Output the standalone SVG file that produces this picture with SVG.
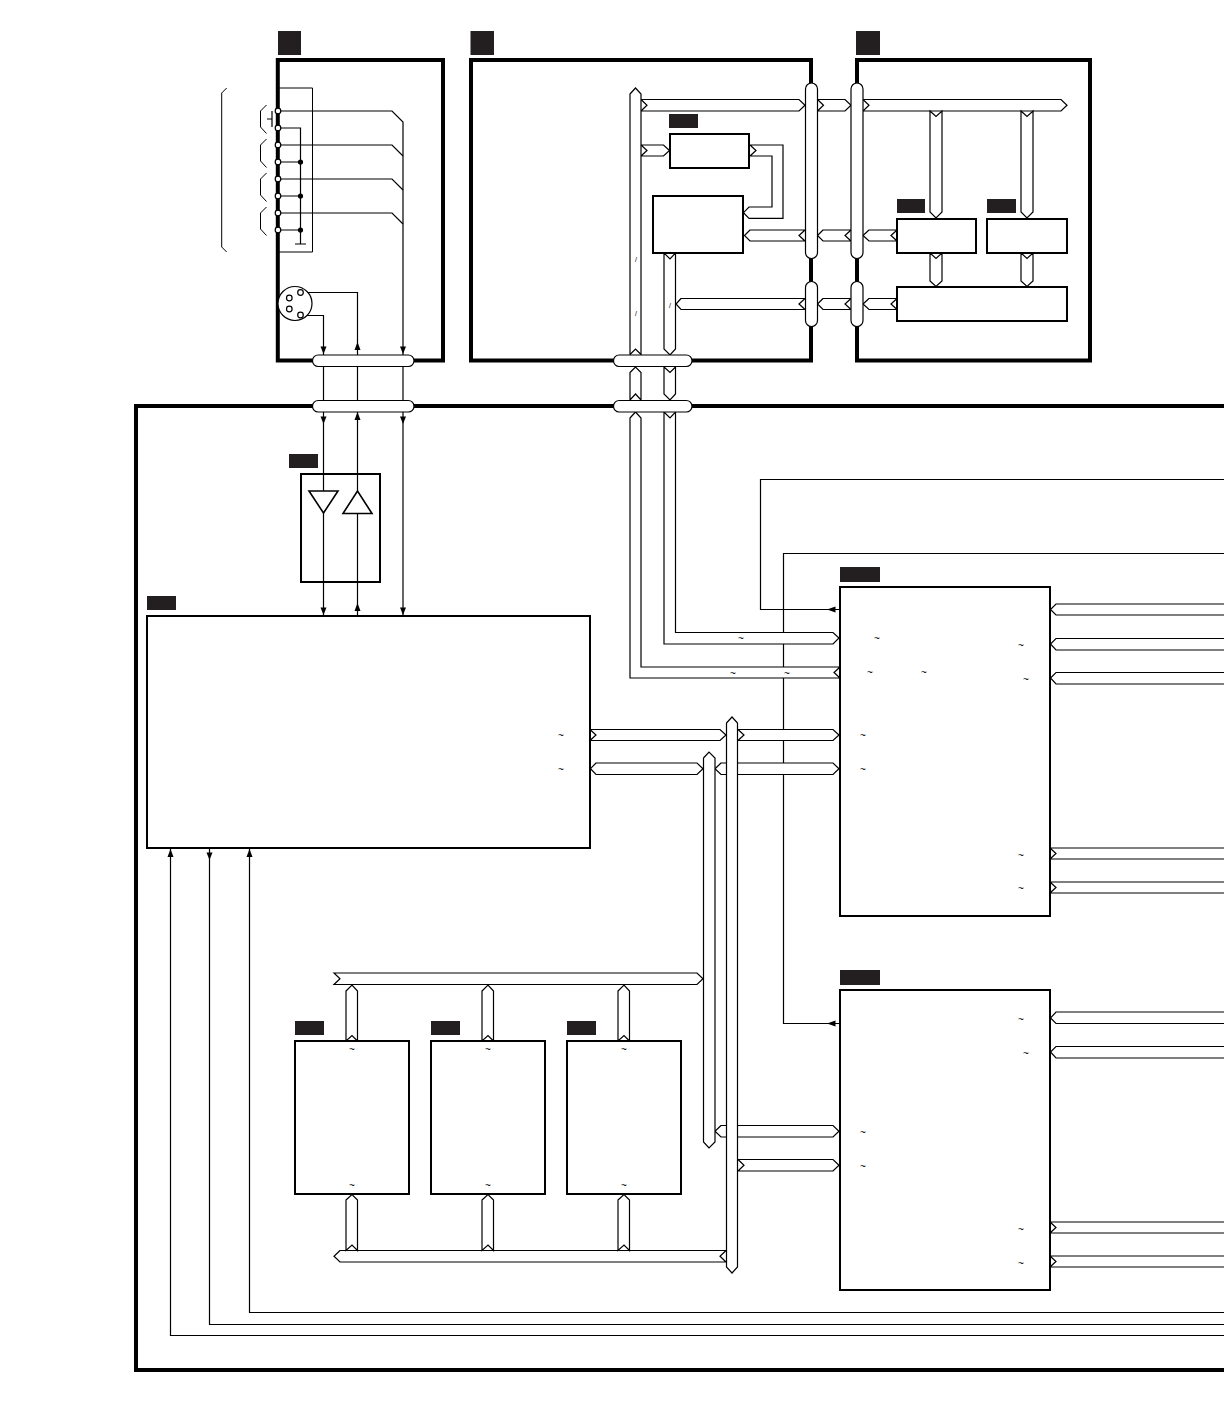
<svg xmlns="http://www.w3.org/2000/svg" width="1224" height="1422" viewBox="0 0 1224 1422">
<style>
.panel{fill:none;stroke:#000;stroke-width:4}
.box{fill:#fff;stroke:#000;stroke-width:2}
.tag{fill:#231f20;stroke:none}
.bus{fill:#fff;stroke:#000;stroke-width:1.2;stroke-linejoin:miter}
.pill{fill:#fff;stroke:#000;stroke-width:1.2}
.line{fill:none;stroke:#000;stroke-width:1.2}
.thin{fill:none;stroke:#000;stroke-width:1}
.pin{fill:#fff;stroke:#000;stroke-width:1.2}
.dot{fill:#000;stroke:none}
.mark{font-family:"Liberation Sans",Arial,sans-serif;font-size:10px;fill:#000;text-anchor:middle}
.slash{font-family:"Liberation Sans",Arial,sans-serif;font-size:7px;fill:#000;text-anchor:middle}
</style>
<defs>
<path id="aD" d="M-3,-7.500L3,-7.500L0,0Z" fill="#000"/>
<path id="aU" d="M-3,8L3,8L0,0Z" fill="#000"/>
<path id="aL" d="M8.500,-3L8.500,3L0,0Z" fill="#000"/>
</defs>

<g id="panels">
<rect class="tag" x="278" y="31" width="23" height="24"/>
<rect class="tag" x="470.500" y="31" width="23.500" height="24"/>
<rect class="tag" x="856" y="31" width="24" height="24"/>
<rect class="panel" x="277.800" y="60" width="165.200" height="300.500"/>
<rect class="panel" x="471" y="60" width="340" height="300.500"/>
<rect class="panel" x="857" y="60" width="233" height="300.500"/>
<path class="panel" d="M1226,406H136V1370H1226"/>
</g>

<g id="connectors">
<g id="signal-lines">
<path class="line" d="M1224,479.500H760.500V609.500H840"/>
<path class="line" d="M1224,553.500H783.500V1023.500H840"/>
<path class="line" d="M1224,1312.500H249.500V848"/>
<path class="line" d="M1224,1324.500H209.500V848"/>
<path class="line" d="M1224,1335.500H170.500V848"/>
<path class="line" d="M301,292.500H357.500V616"/>
<path class="line" d="M301,315.500H323.500V616"/>
<path class="line" d="M278,111H392L403,122V616"/>
<path class="line" d="M278,145H392L403,156"/>
<path class="line" d="M278,179H392L403,190"/>
<path class="line" d="M278,213H392L403,224"/>
<use href="#aL" x="827" y="609.500"/>
<use href="#aL" x="827" y="1023.500"/>
<use href="#aU" x="170.500" y="849"/>
<use href="#aD" x="209.500" y="860"/>
<use href="#aU" x="249.500" y="849"/>
<use href="#aD" x="323.500" y="354"/>
<use href="#aU" x="357.500" y="342"/>
<use href="#aD" x="403" y="354"/>
<use href="#aD" x="323.500" y="424"/>
<use href="#aU" x="357.500" y="412"/>
<use href="#aD" x="403" y="424"/>
<use href="#aD" x="323.500" y="615"/>
<use href="#aU" x="357.500" y="603"/>
<use href="#aD" x="403" y="615"/>
</g>
<g id="horizontal-buses">
<polygon class="bus" points="641,99.500 647,105.200 641,111 799,111 805,105.200 799,99.500"/>
<polygon class="bus" points="817.500,99.500 823.500,105.200 817.500,111 845,111 851,105.200 845,99.500"/>
<polygon class="bus" points="863,99.500 869,105.200 863,111 1061,111 1067,105.200 1061,99.500"/>
<polygon class="bus" points="641,145 647,150.500 641,156 663.500,156 669.500,150.500 663.500,145"/>
<polygon class="bus" points="750,145 756,150.500 750,156 772,156 772,207 749,207 743.500,212.700 749,218.300 783,218.300 783,145"/>
<polygon class="bus" points="750,230 744.500,235.500 750,241 805,241 799,235.500 805,230"/>
<polygon class="bus" points="823,230 817.500,235.500 823,241 851,241 845,235.500 851,230"/>
<polygon class="bus" points="869,230 863,235.500 869,241 897,241 891,235.500 897,230"/>
<polygon class="bus" points="681,298.500 676,304 681,309.500 805,309.500 799,304 805,298.500"/>
<polygon class="bus" points="823,298.500 817.500,304 823,309.500 851,309.500 845,304 851,298.500"/>
<polygon class="bus" points="869,298.500 863,304 869,309.500 897,309.500 891,304 897,298.500"/>
<polygon class="bus" points="590,729.500 596,735 590,740.500 720,740.500 726,735 720,729.500"/>
<polygon class="bus" points="738,729.500 744,735 738,740.500 833,740.500 839,735 833,729.500"/>
<polygon class="bus" points="596,763 590.500,768.700 596,774.500 697,774.500 703,768.700 697,763"/>
<polygon class="bus" points="721,763 715,768.700 721,774.500 833,774.500 839,768.700 833,763"/>
<polygon class="bus" points="721,1125.500 715,1131.200 721,1137 833,1137 839,1131.200 833,1125.500"/>
<polygon class="bus" points="738,1159.500 744,1165.200 738,1171 833,1171 839,1165.200 833,1159.500"/>
<polygon class="bus" points="334,973 340,978.700 334,984.500 697,984.500 703,978.700 697,973"/>
<polygon class="bus" points="340,1250.500 334,1256.200 340,1262 726,1262 720,1256.200 726,1250.500"/>
<polygon class="bus" points="1226,604 1056,604 1050.500,609.500 1056,615 1226,615"/>
<polygon class="bus" points="1226,638.500 1056,638.500 1050.500,644 1056,650 1226,650"/>
<polygon class="bus" points="1226,672.500 1056,672.500 1050.500,678 1056,684 1226,684"/>
<polygon class="bus" points="1226,848 1050,848 1056,853.500 1050,859 1226,859"/>
<polygon class="bus" points="1226,882 1050,882 1056,887.500 1050,893 1226,893"/>
<polygon class="bus" points="1226,1012 1056,1012 1050.500,1018 1056,1023.500 1226,1023.500"/>
<polygon class="bus" points="1226,1046.500 1056,1046.500 1050.500,1052 1056,1058 1226,1058"/>
<polygon class="bus" points="1226,1222 1050,1222 1056,1227.500 1050,1233 1226,1233"/>
<polygon class="bus" points="1226,1256 1050,1256 1056,1261.500 1050,1267 1226,1267"/>
</g>
<g id="vertical-buses">
<polygon class="bus" points="630,94 635.500,88 641,94 641,354.500 635.500,349 630,354.500"/>
<polygon class="bus" points="630,372.500 635.500,367 641,372.500 641,400 635.500,394 630,400"/>
<polygon class="bus" points="630,418 635.500,412 641,418 641,667 840,667 834,672.500 840,678 630,678"/>
<polygon class="bus" points="664,253 670,259 675.500,253 675.500,349 670,355 664,349"/>
<polygon class="bus" points="664,367 670,372.500 675.500,367 675.500,394 670,400 664,394"/>
<polygon class="bus" points="664,412 670,418 675.500,412 675.500,632.500 833,632.500 839,638 833,644 664,644"/>
<polygon class="bus" points="703.500,758 709,752 715,758 715,1142 709,1148 703.500,1142"/>
<polygon class="bus" points="726.500,723 732,717 737.500,723 737.500,1267 732,1273 726.500,1267"/>
<polygon class="bus" points="930,111 936,116.500 942,111 942,212 936,218 930,212"/>
<polygon class="bus" points="1021,111 1027,116.500 1033,111 1033,212 1027,218 1021,212"/>
<polygon class="bus" points="930,253 936,258.500 942,253 942,281 936,286.500 930,281"/>
<polygon class="bus" points="1021,253 1027,258.500 1033,253 1033,281 1027,286.500 1021,281"/>
<polygon class="bus" points="346,991 352,985 357.500,991 357.500,1041 352,1035.500 346,1041"/>
<polygon class="bus" points="482,991 488,985 493.500,991 493.500,1041 488,1035.500 482,1041"/>
<polygon class="bus" points="618,991 624,985 629.500,991 629.500,1041 624,1035.500 618,1041"/>
<polygon class="bus" points="346,1200 352,1194.500 357.500,1200 357.500,1250.500 352,1245 346,1250.500"/>
<polygon class="bus" points="482,1200 488,1194.500 493.500,1200 493.500,1250.500 488,1245 482,1250.500"/>
<polygon class="bus" points="618,1200 624,1194.500 629.500,1200 629.500,1250.500 624,1245 618,1250.500"/>
</g>
<g id="port-pills">
<rect class="pill" x="805.500" y="83" width="12" height="175.500" rx="6"/>
<rect class="pill" x="851" y="83" width="12" height="175.500" rx="6"/>
<rect class="pill" x="805.500" y="281.500" width="12" height="45" rx="6"/>
<rect class="pill" x="851" y="281.500" width="12" height="45" rx="6"/>
<rect class="pill" x="312.500" y="355" width="101.500" height="11.500" rx="5.700"/>
<rect class="pill" x="312.500" y="400.500" width="101.500" height="11.500" rx="5.700"/>
<rect class="pill" x="613.500" y="355" width="78.500" height="11.500" rx="5.700"/>
<rect class="pill" x="613.500" y="400.500" width="78.500" height="11.500" rx="5.700"/>
</g>
</g>

<g id="node-a-terminals">
<path class="thin" d="M278,88H312.500V252H278"/>
<path class="thin" d="M226.700,88L221.700,93V247L226.700,252"/>
<path class="thin" d="M266.500,105L260.500,111V127L266.500,133.500M266.500,139L260.500,145V161L266.500,167.500M266.500,173L260.500,179V195L266.500,201.500M266.500,207L260.500,213V229L266.500,235.500"/>
<path class="line" d="M278,128H300.500V244M278,162H300.500M278,196H300.500M278,230H300.500M295,244H306"/>
<path class="line" d="M272,111V127M267,119H272"/>
<circle class="dot" cx="300.500" cy="162" r="2.600"/>
<circle class="dot" cx="300.500" cy="196" r="2.600"/>
<circle class="dot" cx="300.500" cy="230" r="2.600"/>
<circle class="pin" cx="278" cy="111" r="2.800"/>
<circle class="pin" cx="278" cy="128" r="2.800"/>
<circle class="pin" cx="278" cy="145" r="2.800"/>
<circle class="pin" cx="278" cy="162" r="2.800"/>
<circle class="pin" cx="278" cy="179" r="2.800"/>
<circle class="pin" cx="278" cy="196" r="2.800"/>
<circle class="pin" cx="278" cy="213" r="2.800"/>
<circle class="pin" cx="278" cy="230" r="2.800"/>
</g>
<g id="node-a-jack">
<circle class="pin" cx="295" cy="303.500" r="17"/>
<circle class="pin" cx="289.300" cy="298" r="2.800"/>
<circle class="pin" cx="300.500" cy="292.500" r="2.800"/>
<circle class="pin" cx="289.300" cy="309" r="2.800"/>
<circle class="pin" cx="300.500" cy="315" r="2.800"/>
</g>

<g id="node-b1"><rect class="tag" x="669" y="114" width="29" height="14"/><rect class="box" x="670" y="134" width="79" height="34"/></g>
<g id="node-b2"><rect class="box" x="653" y="196" width="90" height="57"/></g>
<g id="node-c1"><rect class="tag" x="897" y="199" width="28" height="14"/><rect class="box" x="897" y="219" width="79" height="34"/></g>
<g id="node-c2"><rect class="tag" x="987" y="199" width="29" height="14"/><rect class="box" x="987" y="219" width="80" height="34"/></g>
<g id="node-c3"><rect class="box" x="897" y="287" width="170" height="34"/></g>
<g id="node-amp">
<rect class="tag" x="289" y="454" width="29" height="14"/>
<rect class="box" style="fill:none" x="301" y="474" width="79" height="108"/>
<polygon class="box" style="stroke-width:1.6" points="309,491 338,491 323.500,513"/>
<polygon class="box" style="stroke-width:1.6" points="343,513.500 372,513.500 357.500,491"/>
</g>
<g id="node-main">
<rect class="tag" x="147" y="596" width="29" height="14"/>
<rect class="box" x="147" y="616" width="443" height="232"/>
<text class="mark" x="561" y="739">~</text>
<text class="mark" x="561" y="773">~</text>
</g>
<g id="node-upper">
<rect class="tag" x="840" y="567" width="40" height="15"/>
<rect class="box" x="840" y="587" width="210" height="329"/>
<text class="mark" x="877" y="642">~</text>
<text class="mark" x="870" y="676">~</text>
<text class="mark" x="924" y="676">~</text>
<text class="mark" x="1021" y="649">~</text>
<text class="mark" x="1026" y="683">~</text>
<text class="mark" x="863" y="739">~</text>
<text class="mark" x="863" y="773">~</text>
<text class="mark" x="1021" y="859">~</text>
<text class="mark" x="1021" y="892">~</text>
</g>
<g id="node-lower">
<rect class="tag" x="840" y="970" width="40" height="15"/>
<rect class="box" x="840" y="990" width="210" height="300"/>
<text class="mark" x="1021" y="1023">~</text>
<text class="mark" x="1026" y="1057">~</text>
<text class="mark" x="863" y="1136">~</text>
<text class="mark" x="863" y="1170">~</text>
<text class="mark" x="1021" y="1233">~</text>
<text class="mark" x="1021" y="1267">~</text>
</g>
<g id="node-mem1">
<rect class="tag" x="295" y="1021" width="29" height="14"/>
<rect class="box" x="295" y="1041" width="114" height="153"/>
<text class="mark" x="352" y="1053">~</text>
<text class="mark" x="352" y="1189">~</text>
</g>
<g id="node-mem2">
<rect class="tag" x="431" y="1021" width="29" height="14"/>
<rect class="box" x="431" y="1041" width="114" height="153"/>
<text class="mark" x="488" y="1053">~</text>
<text class="mark" x="488" y="1189">~</text>
</g>
<g id="node-mem3">
<rect class="tag" x="567" y="1021" width="29" height="14"/>
<rect class="box" x="567" y="1041" width="114" height="153"/>
<text class="mark" x="624" y="1053">~</text>
<text class="mark" x="624" y="1189">~</text>
</g>
<g id="bus-labels">
<text class="mark" x="741" y="642">~</text>
<text class="mark" x="733" y="677">~</text>
<text class="mark" x="787" y="677">~</text>
<text class="slash" x="636" y="262">/</text>
<text class="slash" x="636" y="316">/</text>
<text class="slash" x="670" y="308">/</text>
</g>
</svg>
